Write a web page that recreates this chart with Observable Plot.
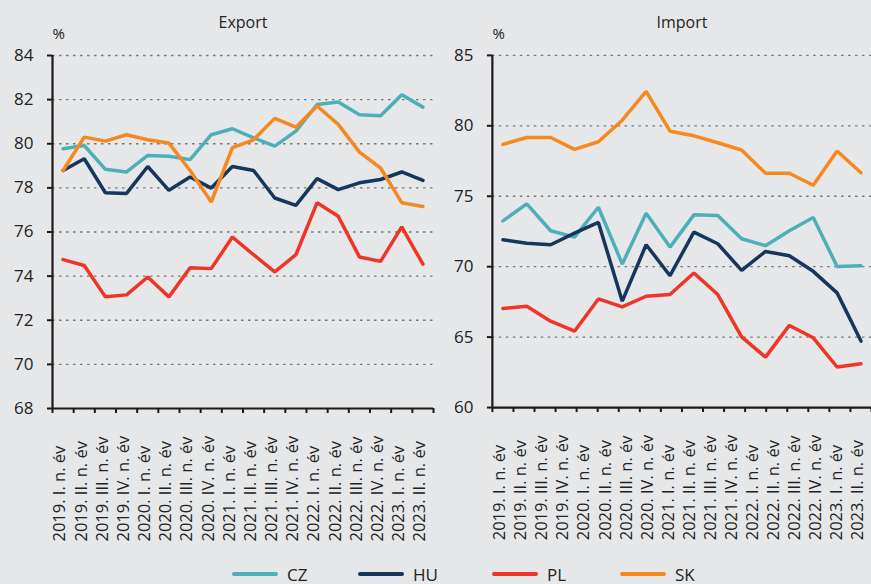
<!DOCTYPE html>
<html><head><meta charset="utf-8">
<script src="https://cdn.jsdelivr.net/npm/d3@7"></script>
<script src="https://cdn.jsdelivr.net/npm/@observablehq/plot@0.6"></script>
<style>
body{margin:0;background:#e6e7e9;font-family:"Open Sans",sans-serif;}
#wrap{position:relative;width:871px;height:584px;overflow:hidden;background:#e6e7e9;}
.panel{position:absolute;top:0;}
#legend{position:absolute;top:563px;left:0;width:871px;height:22px;}
.item{position:absolute;top:0;display:flex;align-items:center;height:22px;font-size:17px;color:#222;}
.sw{width:46px;height:4px;margin-right:9px;border-radius:2px;}
g[aria-label="xlabels"] text{letter-spacing:3.5px;}
</style></head><body>
<div id="wrap"><div id="left" class="panel" style="left:0"></div><div id="right" class="panel" style="left:440px"></div><div id="legend"></div></div>
<script>
const categories = ["2019. I. n. év","2019. II. n. év","2019. III. n. év","2019. IV. n. év","2020. I. n. év","2020. II. n. év","2020. III. n. év","2020. IV. n. év","2021. I. n. év","2021. II. n. év","2021. III. n. év","2021. IV. n. év","2022. I. n. év","2022. II. n. év","2022. III. n. év","2022. IV. n. év","2023. I. n. év","2023. II. n. év"];
const seriesNames = ["CZ","HU","PL","SK"];
const seriesColors = ["#4db0b9","#16365c","#ee3527","#f5891f"];

const exportCZ = [79.77,79.92,78.84,78.72,79.47,79.43,79.28,80.41,80.68,80.27,79.89,80.57,81.78,81.89,81.31,81.27,82.22,81.66];
const exportHU = [78.79,79.32,77.78,77.75,78.97,77.89,78.49,77.99,78.97,78.79,77.54,77.21,78.42,77.92,78.23,78.38,78.72,78.34];
const exportPL = [74.75,74.48,73.06,73.15,73.96,73.06,74.38,74.34,75.77,74.97,74.19,74.97,77.33,76.71,74.87,74.67,76.23,74.54];
const exportSK = [78.79,80.30,80.12,80.41,80.18,80.03,78.79,77.36,79.82,80.18,81.15,80.75,81.71,80.88,79.62,78.90,77.33,77.16];

const importCZ = [73.25,74.46,72.55,72.10,74.22,70.19,73.80,71.39,73.68,73.63,71.98,71.49,72.55,73.49,70.02,70.07];
const importHU = [71.91,71.67,71.56,72.38,73.14,67.55,71.56,69.36,72.45,71.63,69.74,71.08,70.78,69.67,68.14,64.72];
const importPL = [67.03,67.19,66.13,65.42,67.71,67.15,67.90,68.02,69.55,68.02,65.02,63.58,65.83,64.95,62.88,63.11];
const importSK = [78.68,79.17,79.17,78.33,78.87,80.40,82.45,79.62,79.29,78.80,78.28,76.63,76.63,75.78,78.21,76.67];

const exportTicks = [68,70,72,74,76,78,80,82,84];
const importTicks = [60,65,70,75,80,85];

function toLong(arrays) {
  const rows = [];
  arrays.forEach((vals, s) => {
    const n = vals.length;
    // spread the series evenly from the first to the last category centre
    vals.forEach((v, i) => rows.push({series: seriesNames[s], x: 0.5 + (categories.length - 1) * i / (n - 1), value: v}));
  });
  return rows;
}

function panel({title, data, ticks, width, marginRight}) {
  const yDomain = [ticks[0], ticks[ticks.length - 1]];
  return Plot.plot({
    width, height: 560,
    marginLeft: 52, marginRight, marginTop: 55, marginBottom: 152,
    style: {background: "transparent", fontFamily: "'Open Sans', sans-serif", color: "#222"},
    x: {domain: [0, categories.length]},
    y: {domain: yDomain},
    color: {domain: seriesNames, range: seriesColors},
    marks: [
      Plot.gridY(ticks.slice(1), {stroke: "#777", strokeOpacity: 1, strokeWidth: 1.3, strokeDasharray: "2.5,4.5"}),
      Plot.axisY(ticks, {tickSize: 5, tickPadding: 14, fontSize: 17, fill: "#222", stroke: "#1a1a1a", strokeWidth: 2, label: null}),
      Plot.axisX(d3.range(categories.length + 1), {tickSize: 5, tickFormat: () => "", stroke: "#1a1a1a", strokeWidth: 2, label: null}),
      Plot.line(data, {x: "x", y: "value", z: "series", stroke: "series", strokeWidth: 3.5, strokeLinejoin: "miter"}),
      Plot.ruleX([0], {stroke: "#1a1a1a", strokeWidth: 2.2}),
      Plot.ruleY([yDomain[0]], {stroke: "#1a1a1a", strokeWidth: 2.2}),
      Plot.text(categories, {x: (d, i) => i + 0.5, frameAnchor: "bottom", dy: 133, dx: -3, rotate: -90, textAnchor: "start", lineAnchor: "middle", fontSize: 16.5, fill: "#222", ariaLabel: "xlabels"}),
      Plot.text([title], {frameAnchor: "top", dy: -33, lineAnchor: "middle", fontSize: 16, fill: "#222"}),
      Plot.text(["%"], {frameAnchor: "top-left", dy: -21, textAnchor: "start", lineAnchor: "middle", fontSize: 15, fill: "#222"})
    ]
  });
}

document.getElementById("left").append(panel({
  title: "Export", data: toLong([exportCZ, exportHU, exportPL, exportSK]), ticks: exportTicks, width: 440, marginRight: 7
}));
document.getElementById("right").append(panel({
  title: "Import", data: toLong([importCZ, importHU, importPL, importSK]), ticks: importTicks, width: 432, marginRight: 0
}));

const legendLeft = [232, 358, 492, 620];
const legend = document.getElementById("legend");
seriesNames.forEach((name, i) => {
  const item = document.createElement("div");
  item.className = "item";
  item.style.left = legendLeft[i] + "px";
  const sw = document.createElement("span");
  sw.className = "sw";
  sw.style.background = seriesColors[i];
  const lab = document.createElement("span");
  lab.textContent = name;
  item.append(sw, lab);
  legend.append(item);
});
</script>
</body></html>
